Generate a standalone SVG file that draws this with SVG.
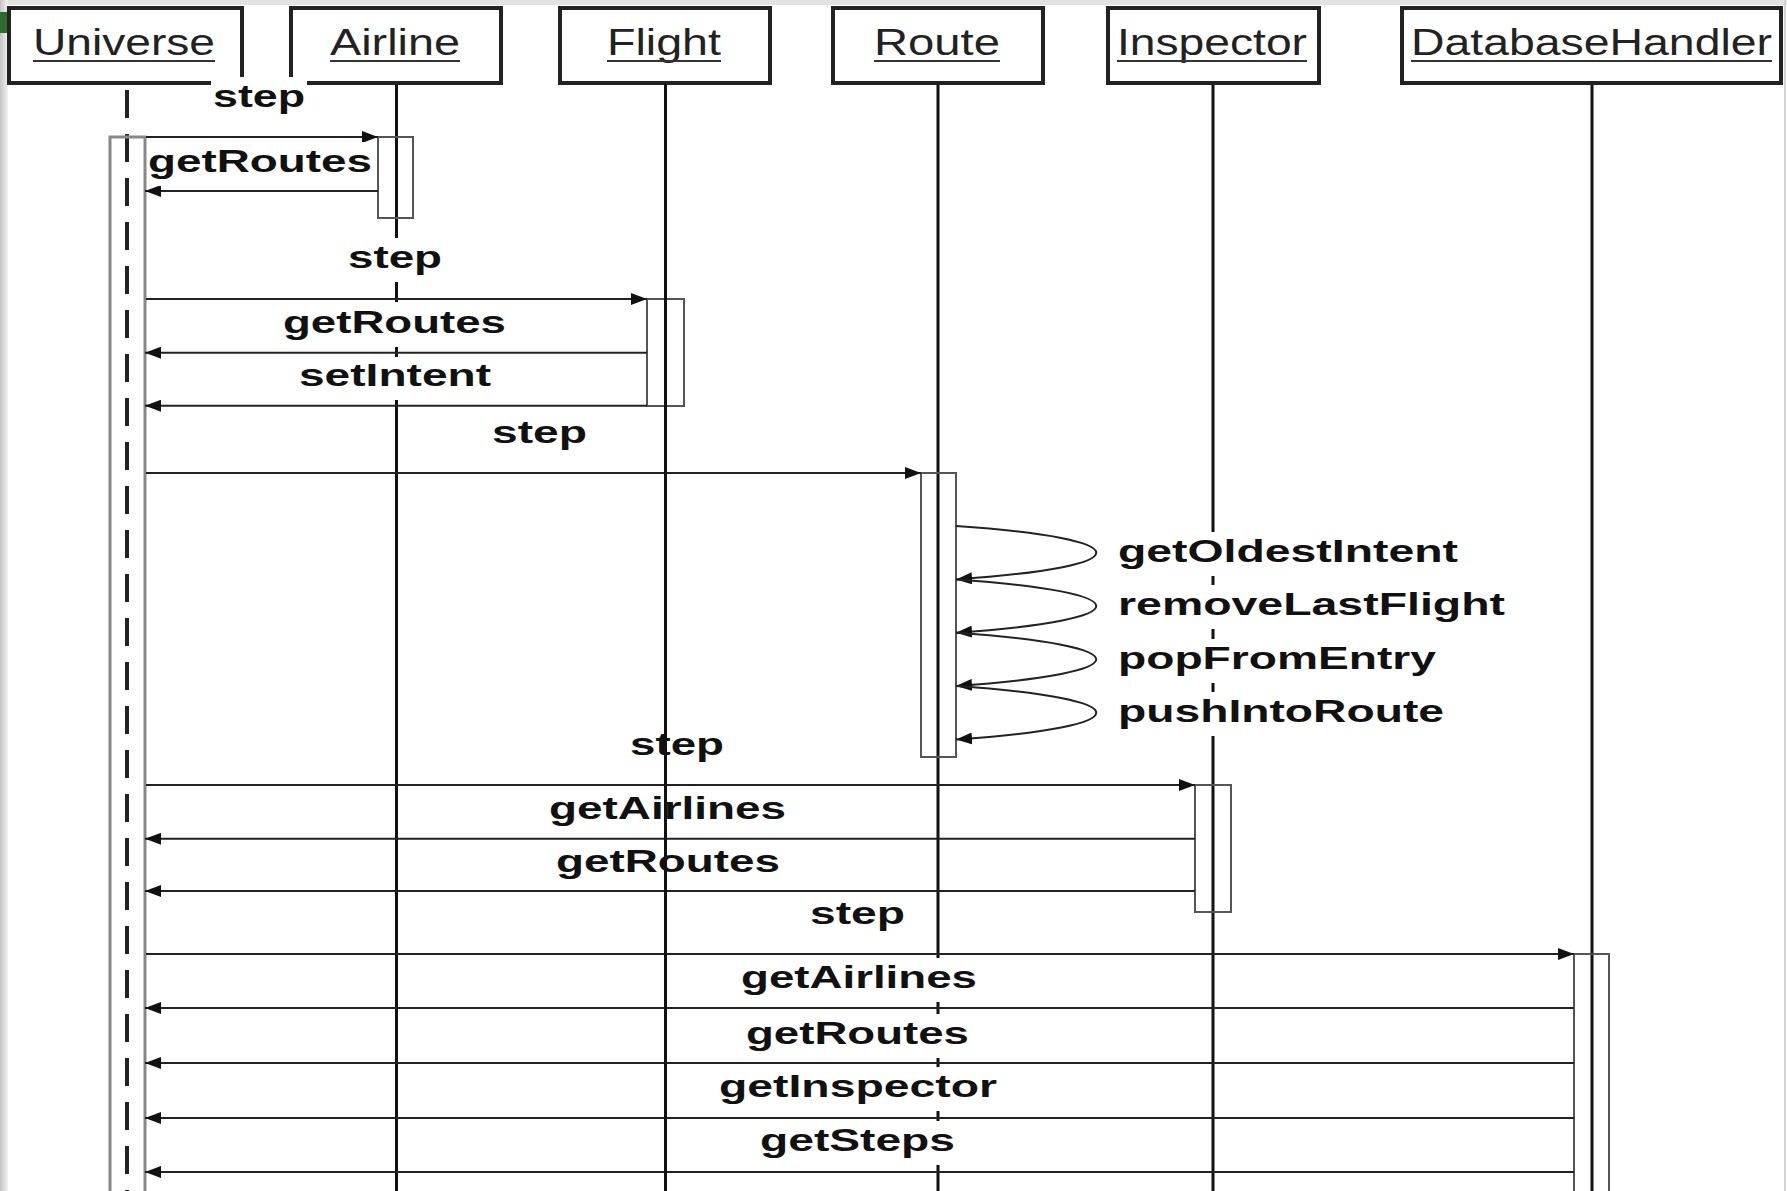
<svg xmlns="http://www.w3.org/2000/svg" width="1787" height="1191" viewBox="0 0 1787 1191">
<defs>
<linearGradient id="lg" x1="0" y1="0" x2="1" y2="0"><stop offset="0" stop-color="#c4c4c4"/><stop offset="1" stop-color="#f2f2f2"/></linearGradient>
<marker id="ah" markerWidth="17" markerHeight="12" refX="16" refY="6" orient="auto" markerUnits="userSpaceOnUse"><path d="M0,0 L16,6 L0,12 z" fill="#111"/></marker>
<style>
.hdr{fill:#fff;stroke:#222;stroke-width:4}
.hl{font-family:"Liberation Sans",Arial,sans-serif;font-size:36px;fill:#222;}
.ul{stroke:#333;stroke-width:2}
.life{stroke:#111;stroke-width:3;fill:none}
.dash{stroke:#222;stroke-width:4;stroke-dasharray:28 16;fill:none}
.bar{fill:none;stroke:#555;stroke-width:2}
.ubar{fill:none;stroke:#888;stroke-width:3}
.msg{stroke:#222;stroke-width:2;fill:none;marker-end:url(#ah)}
.lb{fill:#fff}
.ml{font-family:"Liberation Sans",Arial,sans-serif;font-weight:bold;font-size:31px;fill:#111}
</style>
</defs>
<rect x="0" y="0" width="1787" height="1191" fill="#fff"/>
<rect x="0" y="0" width="1787" height="5" fill="#e2e2e2"/>
<rect x="0" y="0" width="8" height="1191" fill="url(#lg)"/>
<line x1="1785" y1="0" x2="1785" y2="1191" stroke="#d4d4d4" stroke-width="2"/>
<rect x="0" y="12" width="8" height="21" fill="#2d6b2d"/>

<g id="universe">
<line class="dash" x1="127" y1="90" x2="127" y2="1191"/>
<rect class="hdr" x="9" y="8" width="233" height="75"/>
<text class="hl" x="33" y="55" textLength="182" lengthAdjust="spacingAndGlyphs">Universe</text>
<line class="ul" x1="33" y1="61" x2="215" y2="61"/>
<rect class="ubar" x="110" y="137" width="35" height="1070"/>
</g>
<g id="airline">
<line class="life" x1="396.5" y1="84" x2="396.5" y2="1191"/>
<rect class="hdr" x="291" y="8" width="210" height="75"/>
<text class="hl" x="330" y="55" textLength="130" lengthAdjust="spacingAndGlyphs">Airline</text>
<line class="ul" x1="330" y1="61" x2="460" y2="61"/>
<rect class="bar" x="378" y="137" width="35" height="81"/>
</g>
<g id="flight">
<rect class="hdr" x="560" y="8" width="210" height="75"/>
<text class="hl" x="607" y="55" textLength="114" lengthAdjust="spacingAndGlyphs">Flight</text>
<line class="ul" x1="607" y1="61" x2="721" y2="61"/>
<rect class="bar" x="647" y="299" width="37" height="107"/>
</g>
<g id="route">
<line class="life" x1="938" y1="84" x2="938" y2="1191"/>
<rect class="hdr" x="833" y="8" width="210" height="75"/>
<text class="hl" x="874" y="55" textLength="126" lengthAdjust="spacingAndGlyphs">Route</text>
<line class="ul" x1="874" y1="61" x2="1000" y2="61"/>
<rect class="bar" x="921" y="473" width="35" height="284" stroke="#777"/>
</g>
<g id="inspector">
<line class="life" x1="1213" y1="84" x2="1213" y2="1191"/>
<rect class="hdr" x="1108" y="8" width="211" height="75"/>
<text class="hl" x="1117" y="55" textLength="190" lengthAdjust="spacingAndGlyphs">Inspector</text>
<line class="ul" x1="1117" y1="61" x2="1307" y2="61"/>
<rect class="bar" x="1195" y="785" width="36" height="127"/>
</g>
<g id="databasehandler">
<line class="life" x1="1592" y1="84" x2="1592" y2="1191"/>
<rect class="hdr" x="1402" y="8" width="379" height="75"/>
<text class="hl" x="1411" y="55" textLength="361" lengthAdjust="spacingAndGlyphs">DatabaseHandler</text>
<line class="ul" x1="1411" y1="61" x2="1772" y2="61"/>
<rect class="bar" x="1574" y="954" width="35" height="250"/>
</g>

<g id="connectors">
<line class="msg" x1="146" y1="137" x2="378" y2="137"/>
<line class="msg" x1="378" y1="191" x2="145" y2="191"/>
<line class="msg" x1="146" y1="299" x2="647" y2="299"/>
<line class="msg" x1="647" y1="352.7" x2="145" y2="352.7"/>
<line class="msg" x1="647" y1="405.7" x2="145" y2="405.7"/>
<line class="msg" x1="146" y1="473" x2="921" y2="473"/>
<path class="msg" d="M956,526 C1143,539 1143,566.4 956,579.4"/>
<path class="msg" d="M956,579.4 C1143,592.4 1143,619.7 956,632.7"/>
<path class="msg" d="M956,632.7 C1143,645.7 1143,673 956,686"/>
<path class="msg" d="M956,686 C1143,699 1143,726.6 956,739.6"/>
<line class="msg" x1="146" y1="785" x2="1195" y2="785"/>
<line class="msg" x1="1195" y1="838.8" x2="145" y2="838.8"/>
<line class="msg" x1="1195" y1="891" x2="145" y2="891"/>
<line class="msg" x1="146" y1="954" x2="1574" y2="954"/>
<line class="msg" x1="1574" y1="1008" x2="145" y2="1008"/>
<line class="msg" x1="1574" y1="1063" x2="145" y2="1063"/>
<line class="msg" x1="1574" y1="1118" x2="145" y2="1118"/>
<line class="msg" x1="1574" y1="1172" x2="145" y2="1172"/>
</g>

<g id="labels">
<rect class="lb" x="211" y="77" width="96" height="44"/><text class="ml" x="213" y="107" textLength="92" lengthAdjust="spacingAndGlyphs">step</text>
<rect class="lb" x="147" y="142" width="227" height="44"/><text class="ml" x="148" y="172" textLength="224" lengthAdjust="spacingAndGlyphs">getRoutes</text>
<rect class="lb" x="346" y="238" width="98" height="44"/><text class="ml" x="348" y="268" textLength="94" lengthAdjust="spacingAndGlyphs">step</text>
<rect class="lb" x="281" y="302" width="227" height="45"/><text class="ml" x="283" y="332.5" textLength="223" lengthAdjust="spacingAndGlyphs">getRoutes</text>
<rect class="lb" x="297" y="357" width="196" height="43"/><text class="ml" x="299" y="386" textLength="192" lengthAdjust="spacingAndGlyphs">setIntent</text>
<rect class="lb" x="490" y="413" width="99" height="44"/><text class="ml" x="492" y="443" textLength="95" lengthAdjust="spacingAndGlyphs">step</text>
<rect class="lb" x="1116" y="532" width="344" height="44"/><text class="ml" x="1118" y="562" textLength="340" lengthAdjust="spacingAndGlyphs">getOldestIntent</text>
<rect class="lb" x="1116" y="585" width="391" height="44"/><text class="ml" x="1118" y="615" textLength="387" lengthAdjust="spacingAndGlyphs">removeLastFlight</text>
<rect class="lb" x="1116" y="639" width="322" height="44"/><text class="ml" x="1118" y="669" textLength="318" lengthAdjust="spacingAndGlyphs">popFromEntry</text>
<rect class="lb" x="1116" y="692" width="330" height="44"/><text class="ml" x="1118" y="722" textLength="326" lengthAdjust="spacingAndGlyphs">pushIntoRoute</text>
<rect class="lb" x="628" y="725" width="98" height="44"/><text class="ml" x="630" y="755" textLength="94" lengthAdjust="spacingAndGlyphs">step</text>
<rect class="lb" x="547" y="789" width="241" height="44"/><text class="ml" x="549" y="819" textLength="237" lengthAdjust="spacingAndGlyphs">getAirlines</text>
<rect class="lb" x="554" y="842" width="228" height="44"/><text class="ml" x="556" y="872" textLength="224" lengthAdjust="spacingAndGlyphs">getRoutes</text>
<rect class="lb" x="808" y="894" width="99" height="44"/><text class="ml" x="810" y="924" textLength="95" lengthAdjust="spacingAndGlyphs">step</text>
<rect class="lb" x="739" y="958" width="240" height="44"/><text class="ml" x="741" y="988" textLength="236" lengthAdjust="spacingAndGlyphs">getAirlines</text>
<rect class="lb" x="744" y="1014" width="227" height="44"/><text class="ml" x="746" y="1044" textLength="223" lengthAdjust="spacingAndGlyphs">getRoutes</text>
<rect class="lb" x="717" y="1067" width="282" height="44"/><text class="ml" x="719" y="1097" textLength="278" lengthAdjust="spacingAndGlyphs">getInspector</text>
<rect class="lb" x="758" y="1121" width="199" height="44"/><text class="ml" x="760" y="1151" textLength="195" lengthAdjust="spacingAndGlyphs">getSteps</text>
</g>

<g id="flight-lifeline">
<line class="life" x1="665.5" y1="84" x2="665.5" y2="1191"/>
</g>
</svg>
